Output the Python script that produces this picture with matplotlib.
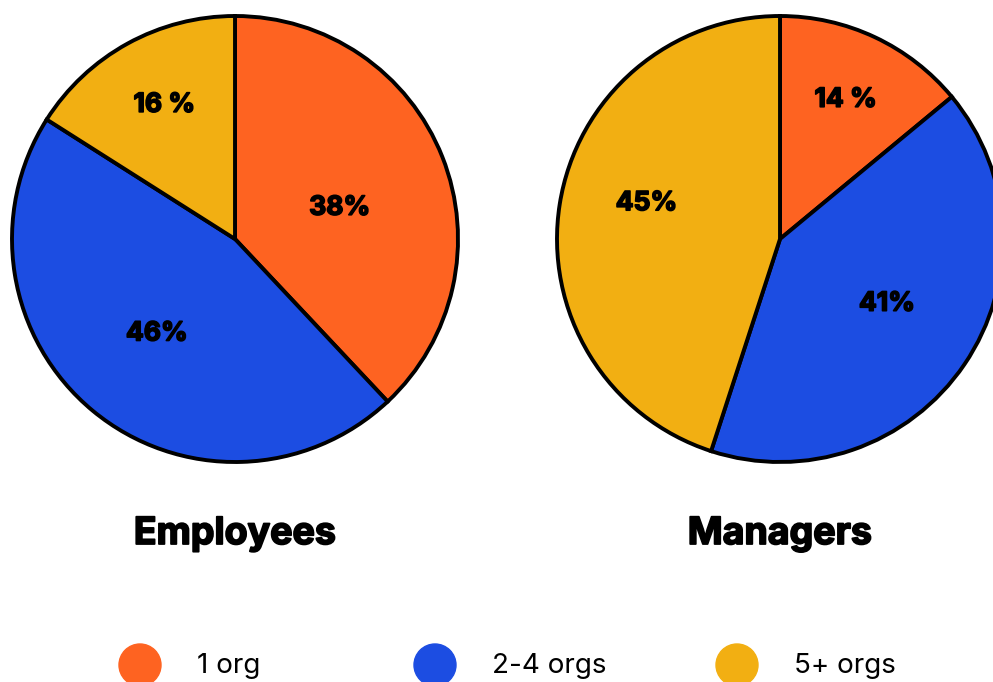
import matplotlib
matplotlib.use("Agg")
import matplotlib.pyplot as plt
import matplotlib.patheffects as pe
import numpy as np

# ---- data ----
categories = ["1 org", "2-4 orgs", "5+ orgs"]
groups = ["Employees", "Managers"]
employees = [38, 46, 16]
managers = [14, 41, 45]
employee_labels = ["38%", "46%", "16 %"]
manager_labels = ["14 %", "41%", "45%"]
colors = ["#FE6321", "#1C4DE2", "#F2AF12"]

W, H = 993, 682
fig = plt.figure(figsize=(W / 100, H / 100), dpi=100)
fig.patch.set_facecolor("white")

R = 223  # pie radius in px
centers = [(235, 239), (780, 239)]
label_r = [[0.49, 0.55, 0.68], [0.69, 0.56, 0.62]]
label_ang_off = [[-5, 0, -1], [0, 3, -6]]

LFONT = ["Inter", "DejaVu Sans"]
bold_fx = [pe.withStroke(linewidth=1.2, foreground="black")]

for gi, (vals, labs) in enumerate([(employees, employee_labels), (managers, manager_labels)]):
    cx, cy = centers[gi]
    ax = fig.add_axes([(cx - R) / W, 1 - (cy + R) / H, 2 * R / W, 2 * R / H])
    wedges, _ = ax.pie(vals, colors=colors, startangle=90, counterclock=False,
                       wedgeprops=dict(edgecolor="black", linewidth=2.8))
    for w in wedges:
        w.set_clip_on(False)
    ax.set_xlim(-1, 1)
    ax.set_ylim(-1, 1)
    ax.set_aspect("equal")
    ax.axis("off")
    for i, w in enumerate(wedges):
        ang = np.deg2rad((w.theta1 + w.theta2) / 2 + label_ang_off[gi][i])
        rr = label_r[gi][i]
        ax.text(rr * np.cos(ang), rr * np.sin(ang), labs[i], ha="center", va="center",
                fontsize=19, fontweight="bold", family=LFONT, color="black",
                path_effects=bold_fx)
    fig.text(cx / W, 1 - 534 / H, groups[gi], ha="center", va="center",
             fontsize=27, fontweight="bold", family=LFONT, color="black",
             path_effects=[pe.withStroke(linewidth=1.3, foreground="black")])

# ---- legend ----
leg_x = [140, 435, 737]
leg_y = 665
for i, cat in enumerate(categories):
    circ = matplotlib.patches.Ellipse((leg_x[i] / W, 1 - leg_y / H), 42 / W, 42 / H,
                                      transform=fig.transFigure, color=colors[i])
    fig.patches.append(circ)
    fig.text((leg_x[i] + 57) / W, 1 - (leg_y + 1) / H, cat, ha="left", va="center",
             fontsize=20, family=LFONT, color="black")

fig.savefig("out.png", dpi=100)
